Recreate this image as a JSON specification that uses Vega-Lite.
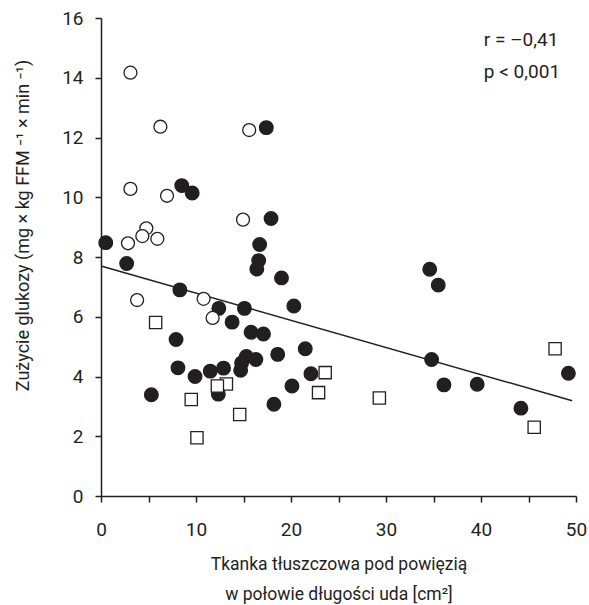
{
  "$schema": "https://vega.github.io/schema/vega-lite/v6.json",
  "autosize": {"type": "none"},
  "width": 475,
  "height": 478,
  "padding": {"left": 101, "top": 18, "right": 13, "bottom": 109},
  "background": "white",
  "config": {
    "view": {"stroke": null},
    "font": "Roboto",
    "axis": {
      "grid": false,
      "domainColor": "#231f20",
      "domainWidth": 1.5,
      "tickColor": "#231f20",
      "tickWidth": 1.5,
      "tickSize": 6,
      "labelColor": "#231f20",
      "titleColor": "#231f20",
      "labelFont": "Roboto",
      "titleFont": "Roboto",
      "labelFontSize": 19,
      "titleFontSize": 17.5,
      "titleFontWeight": "normal",
      "labelFlush": false,
      "labelOverlap": false
    }
  },
  "datasets": {
    "pts": [
      {"fat": 0.5, "glu": 8.48, "group": "filled"},
      {"fat": 2.7, "glu": 7.78, "group": "filled"},
      {"fat": 8.5, "glu": 10.39, "group": "filled"},
      {"fat": 9.6, "glu": 10.14, "group": "filled"},
      {"fat": 17.4, "glu": 12.33, "group": "filled"},
      {"fat": 17.9, "glu": 9.29, "group": "filled"},
      {"fat": 16.7, "glu": 8.42, "group": "filled"},
      {"fat": 16.6, "glu": 7.88, "group": "filled"},
      {"fat": 16.4, "glu": 7.6, "group": "filled"},
      {"fat": 19.0, "glu": 7.3, "group": "filled"},
      {"fat": 8.3, "glu": 6.9, "group": "filled"},
      {"fat": 20.3, "glu": 6.36, "group": "filled"},
      {"fat": 12.4, "glu": 6.28, "group": "filled"},
      {"fat": 15.1, "glu": 6.28, "group": "filled"},
      {"fat": 13.8, "glu": 5.82, "group": "filled"},
      {"fat": 15.8, "glu": 5.48, "group": "filled"},
      {"fat": 17.1, "glu": 5.42, "group": "filled"},
      {"fat": 7.9, "glu": 5.24, "group": "filled"},
      {"fat": 21.5, "glu": 4.93, "group": "filled"},
      {"fat": 18.6, "glu": 4.74, "group": "filled"},
      {"fat": 15.3, "glu": 4.67, "group": "filled"},
      {"fat": 16.3, "glu": 4.57, "group": "filled"},
      {"fat": 14.8, "glu": 4.45, "group": "filled"},
      {"fat": 8.1, "glu": 4.29, "group": "filled"},
      {"fat": 12.9, "glu": 4.28, "group": "filled"},
      {"fat": 11.5, "glu": 4.18, "group": "filled"},
      {"fat": 14.7, "glu": 4.21, "group": "filled"},
      {"fat": 9.9, "glu": 4.0, "group": "filled"},
      {"fat": 22.1, "glu": 4.09, "group": "filled"},
      {"fat": 20.1, "glu": 3.68, "group": "filled"},
      {"fat": 5.3, "glu": 3.39, "group": "filled"},
      {"fat": 12.35, "glu": 3.41, "group": "filled"},
      {"fat": 18.2, "glu": 3.07, "group": "filled"},
      {"fat": 34.6, "glu": 7.59, "group": "filled"},
      {"fat": 35.5, "glu": 7.06, "group": "filled"},
      {"fat": 34.8, "glu": 4.57, "group": "filled"},
      {"fat": 36.1, "glu": 3.72, "group": "filled"},
      {"fat": 39.6, "glu": 3.74, "group": "filled"},
      {"fat": 44.2, "glu": 2.94, "group": "filled"},
      {"fat": 49.2, "glu": 4.11, "group": "filled"},
      {"fat": 3.1, "glu": 14.17, "group": "open"},
      {"fat": 6.25, "glu": 12.36, "group": "open"},
      {"fat": 15.6, "glu": 12.25, "group": "open"},
      {"fat": 3.1, "glu": 10.28, "group": "open"},
      {"fat": 6.95, "glu": 10.05, "group": "open"},
      {"fat": 14.95, "glu": 9.25, "group": "open"},
      {"fat": 4.77, "glu": 8.96, "group": "open"},
      {"fat": 4.35, "glu": 8.7, "group": "open"},
      {"fat": 5.93, "glu": 8.61, "group": "open"},
      {"fat": 2.84, "glu": 8.46, "group": "open"},
      {"fat": 3.8, "glu": 6.56, "group": "open"},
      {"fat": 10.8, "glu": 6.6, "group": "open"},
      {"fat": 11.75, "glu": 5.96, "group": "open"},
      {"fat": 5.75, "glu": 5.81, "group": "square"},
      {"fat": 13.2, "glu": 3.75, "group": "square"},
      {"fat": 12.25, "glu": 3.68, "group": "square"},
      {"fat": 9.5, "glu": 3.23, "group": "square"},
      {"fat": 14.6, "glu": 2.73, "group": "square"},
      {"fat": 10.1, "glu": 1.95, "group": "square"},
      {"fat": 23.6, "glu": 4.13, "group": "square"},
      {"fat": 22.9, "glu": 3.46, "group": "square"},
      {"fat": 29.3, "glu": 3.28, "group": "square"},
      {"fat": 45.6, "glu": 2.3, "group": "square"},
      {"fat": 47.8, "glu": 4.93, "group": "square"}
    ],
    "fit": [
      {"fat": 0, "glu": 7.7},
      {"fat": 49.6, "glu": 3.19}
    ],
    "notes": [
      {"fat": 40.3, "glu": 15.26, "label": "r = –0,41"},
      {"fat": 40.3, "glu": 14.2, "label": "p < 0,001"}
    ]
  },
  "layer": [
    {
      "data": {"name": "fit"},
      "mark": {"type": "line", "color": "#231f20", "strokeWidth": 1.5},
      "encoding": {
        "x": {
          "field": "fat", "type": "quantitative",
          "scale": {"domain": [0, 50], "nice": false, "zero": false},
          "axis": {
            "values": [0, 5, 10, 15, 20, 25, 30, 35, 40, 45, 50],
            "labelExpr": "datum.value % 10 == 0 ? datum.label : ''",
            "labelPadding": 18,
            "title": ["Tkanka tłuszczowa pod powięzią", "w połowie długości uda [cm²]"],
            "titlePadding": 16,
            "titleLineHeight": 30
          }
        },
        "y": {
          "field": "glu", "type": "quantitative",
          "scale": {"domain": [0, 16], "nice": false},
          "axis": {
            "values": [0, 1, 2, 3, 4, 5, 6, 7, 8, 9, 10, 11, 12, 13, 14, 15, 16],
            "labelExpr": "datum.value % 2 == 0 ? datum.label : ''",
            "labelPadding": 12,
            "title": "Zużycie glukozy (mg × kg FFM ⁻¹ × min ⁻¹)",
            "titleFontSize": 18,
            "titleY": 207,
            "titlePadding": 29
          }
        }
      }
    },
    {
      "data": {"name": "pts"},
      "mark": {"type": "point", "filled": false, "strokeWidth": 1.3, "opacity": 1},
      "encoding": {
        "x": {"field": "fat", "type": "quantitative"},
        "y": {"field": "glu", "type": "quantitative"},
        "shape": {
          "field": "group", "type": "nominal",
          "scale": {"domain": ["filled", "open", "square"], "range": ["circle", "circle", "square"]},
          "legend": null
        },
        "fill": {
          "field": "group", "type": "nominal",
          "scale": {"domain": ["filled", "open", "square"], "range": ["#231f20", "#ffffff", "#ffffff"]},
          "legend": null
        },
        "size": {
          "field": "group", "type": "nominal",
          "scale": {"domain": ["filled", "open", "square"], "range": [185, 150, 160]},
          "legend": null
        },
        "stroke": {"value": "#231f20"}
      }
    },
    {
      "data": {"name": "notes"},
      "mark": {"type": "text", "align": "left", "baseline": "middle", "fontSize": 19, "color": "#231f20", "font": "Roboto"},
      "encoding": {
        "x": {"field": "fat", "type": "quantitative"},
        "y": {"field": "glu", "type": "quantitative"},
        "text": {"field": "label"}
      }
    }
  ]
}
